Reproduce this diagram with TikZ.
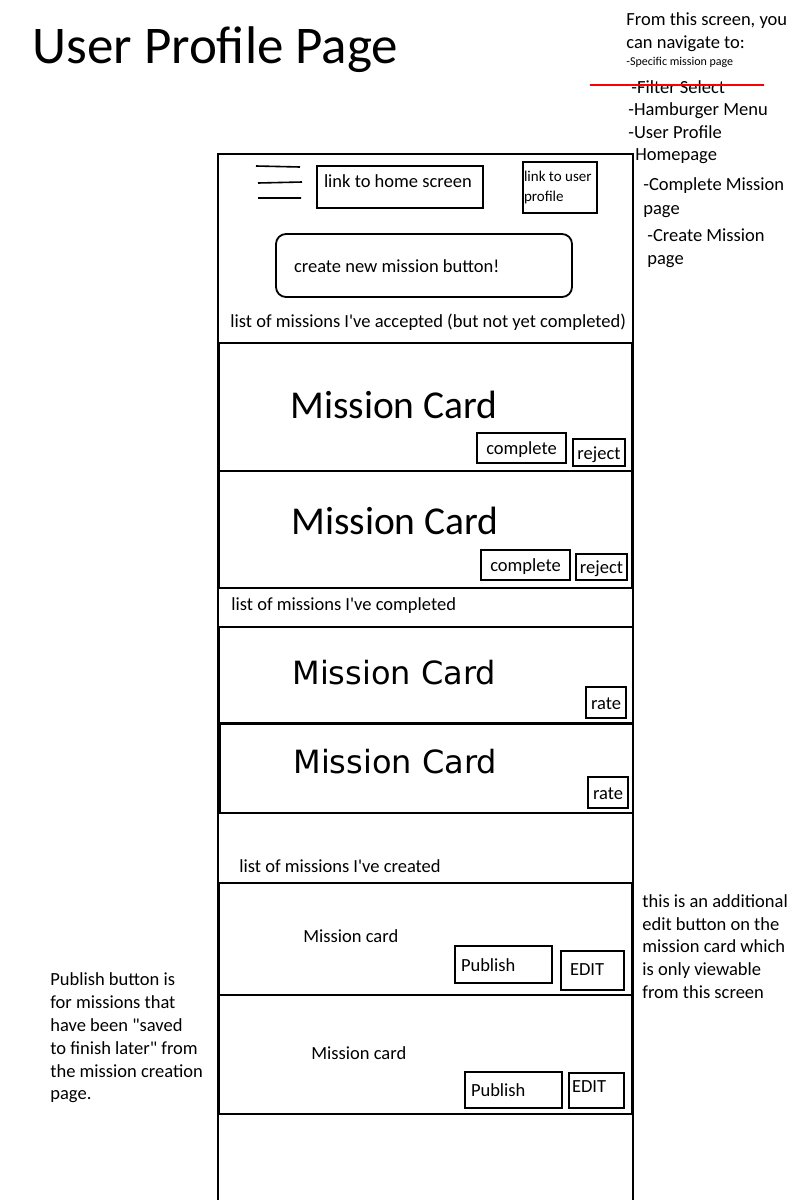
\documentclass[tikz,border=0pt]{standalone}
\usepackage{fontspec}
\setmainfont{Carlito}
\newfontfamily\wideface{DejaVu Sans}

\begin{document}
\begin{tikzpicture}[x=1pt, y=-1pt, thick,
  card/.style = {draw, line width=2pt, minimum width=413pt, inner sep=0},
  btn/.style = {draw, line width=1.8pt, inner sep=0, text height=17pt, text depth=4pt, font=\fontsize{18.5}{22}\selectfont},
  lbl/.style = {anchor=west, inner sep=0, text height=18pt, text depth=4pt, font=\fontsize{18.5}{22.8}\selectfont},
  note/.style = {anchor=west, inner sep=0, align=flush left, font=\fontsize{18.5}{22.8}\selectfont},
  big/.style = {anchor=west, inner sep=0, font=\fontsize{39.5}{44}\selectfont},
  wide/.style = {anchor=west, inner sep=0, font=\wideface\fontsize{32}{36}\selectfont}]
  \useasboundingbox[fill=white] (0,0) rectangle (800,1200);

  \node[anchor=west, inner sep=0, font=\fontsize{53}{60}\selectfont] (title) at (32,50) {User Profile Page};

  % phone frame
  \draw[line width=2pt] (218,1200) -- (218,154) -- (633,154) -- (633,1200);
  \draw[line width=1.6pt] (256,166) -- (300,167) (258,183) -- (302,182) (258,198) -- (301,198);

  \node[btn, minimum height=42pt, text width=152pt, inner xsep=7pt, text height=13pt, text depth=12pt, align=flush left] (home) at (400,187) {link to home screen};
  \node[btn, minimum height=51pt, text width=72pt, inner xsep=1pt, text height=, text depth=, align=flush left, font=\fontsize{15}{20}\selectfont] (user) at (560,187.5) {link to user\\profile};
  \node[btn, rounded corners=10pt, minimum height=63pt, text width=260pt, inner xsep=18pt, align=flush left] (create) at (424,265.5) {create new mission button!};
  \node[lbl] (accepted) at (230,320) {list of missions I\textquotesingle ve accepted (but not yet completed)};

  % accepted missions
  \node[card, minimum height=128pt] (card1) at (425.5,407) {};
  \node[card, minimum height=117pt] (card2) at (425.5,529.5) {};
  \node[big] (mc1) at (290,405) {Mission Card};
  \node[big] (mc2) at (291,521) {Mission Card};
  \node[btn, minimum width=89pt, minimum height=30pt] (cmp1) at (521.5,448) {complete};
  \node[btn, minimum width=52pt, minimum height=27pt] (rej1) at (599,452.5) {reject};
  \node[btn, minimum width=89pt, minimum height=30pt] (cmp2) at (525.5,565) {complete};
  \node[btn, minimum width=51pt, minimum height=26pt] (rej2) at (601.5,567) {reject};

  % completed missions
  \node[lbl] (completed) at (231,603) {list of missions I\textquotesingle ve completed};
  \node[card, minimum width=414pt, minimum height=96pt] (card3) at (426,675) {};
  \node[card, minimum height=89pt] (card4) at (426.5,768.5) {};
  \node[wide] (mc3) at (292,673) {Mission Card};
  \node[wide] (mc4) at (293,762) {Mission Card};
  \node[btn, minimum width=40pt, minimum height=31pt] (rate1) at (606,702.5) {rate};
  \node[btn, minimum width=40pt, minimum height=31pt] (rate2) at (608,792.5) {rate};

  % created missions
  \node[lbl] (created) at (239,865) {list of missions I\textquotesingle ve created};
  \node[card, minimum height=112pt] (card5) at (425.5,939) {};
  \node[card, minimum height=119pt] (card6) at (425.5,1054.5) {};
  \node[lbl] (mc5) at (303,935) {Mission card};
  \node[lbl] (mc6) at (311,1052) {Mission card};
  \node[btn, minimum height=37pt, text width=85pt, inner xsep=6pt, align=flush left] (pub1) at (503.5,964.5) {Publish};
  \node[btn, minimum height=39pt, text width=45pt, inner xsep=9pt, text height=13pt, align=flush left] (edit1) at (592.5,970.5) {EDIT};
  \node[btn, minimum height=36pt, text width=85pt, inner xsep=6pt, align=flush left] (pub2) at (513.5,1090) {Publish};
  \node[btn, minimum height=35pt, text width=49pt, inner xsep=3pt, text height=13pt, text depth=10pt, align=flush left] (edit2) at (596.5,1090.5) {EDIT};

  % notes
  \node[lbl] (nav1) at (626,18) {From this screen, you};
  \node[lbl] (nav2) at (626,41) {can navigate to:};
  \node[lbl, text height=10pt, text depth=3pt, font=\fontsize{12}{14}\selectfont] (nav3) at (626,62) {-Specific mission page};
  \node[lbl] (nav4) at (631,86) {-Filter Select};
  \node[lbl] (nav5) at (628,108) {-Hamburger Menu};
  \node[lbl] (nav6) at (628,131) {-User Profile};
  \node[lbl] (nav7) at (635,153) {Homepage};
  \node[lbl] (nav8) at (643,183) {-Complete Mission};
  \node[lbl] (nav9) at (643,207) {page};
  \node[lbl] (nav10) at (647,234) {-Create Mission};
  \node[lbl] (nav11) at (647,257) {page};
  \draw[red, line width=2pt] ([xshift=-41pt,yshift=1pt]nav4.west) -- ([xshift=39pt,yshift=1pt]nav4.east);

  \node[note] (pubnote) at (50,1038) {Publish button is\\for missions that\\have been \textquotedbl saved\\to finish later\textquotedbl{} from\\the mission creation\\page.};
  \node[note] (editnote) at (642,946.5) {this is an additional\\edit button on the\\mission card which\\is only viewable\\from this screen};
\end{tikzpicture}
\end{document}
